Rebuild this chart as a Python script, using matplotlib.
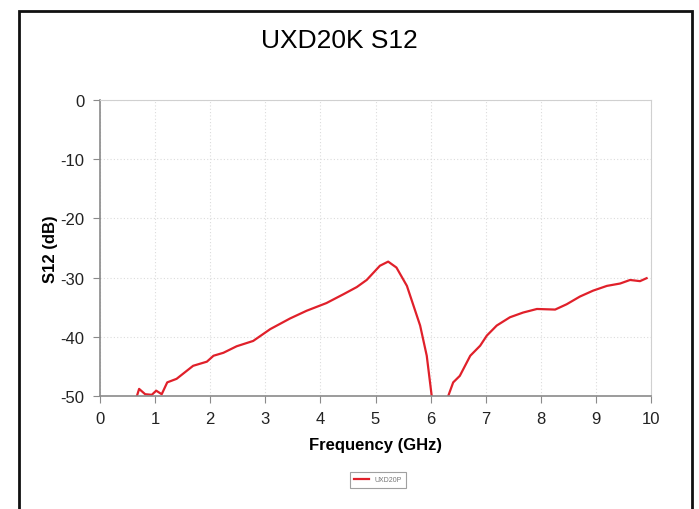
import matplotlib
matplotlib.use("Agg")
import matplotlib.pyplot as plt
from matplotlib.patches import Rectangle

plt.rcParams["font.family"] = ["Liberation Sans", "DejaVu Sans"]
plt.rcParams["axes.unicode_minus"] = False

# S12 trace (GHz, dB); values below -50 get clipped by the axes
freq_ghz = [0.67, 0.71, 0.82, 0.94, 1.02, 1.12, 1.22, 1.39, 1.69, 1.94, 2.06, 2.24,
            2.48, 2.78, 3.09, 3.45, 3.75, 4.11, 4.42, 4.66, 4.84, 5.08, 5.23, 5.38,
            5.57, 5.81, 5.93, 6.02, 6.12, 6.22, 6.32, 6.41, 6.53, 6.72, 6.90, 7.02,
            7.20, 7.44, 7.68, 7.93, 8.26, 8.47, 8.71, 8.95, 9.20, 9.44, 9.62, 9.80, 9.92]
s12_db = [-50.0, -48.8, -49.7, -49.8, -49.1, -49.7, -47.7, -47.1, -44.9, -44.2, -43.2, -42.7,
          -41.6, -40.7, -38.7, -36.9, -35.6, -34.3, -32.8, -31.6, -30.4, -28.0, -27.3, -28.3,
          -31.4, -38.1, -43.2, -50.0, -58.0, -60.0, -50.0, -47.7, -46.6, -43.2, -41.5, -39.8,
          -38.1, -36.7, -35.9, -35.3, -35.4, -34.5, -33.2, -32.2, -31.4, -31.0, -30.4, -30.6, -30.1]

x_ticks = list(range(0, 11))
y_ticks = [0, -10, -20, -30, -40, -50]

fig = plt.figure(figsize=(6.99, 5.10), dpi=100)
W, H = 699, 510

# outer frame of the chart object
fig.patches.append(Rectangle((19 / W, -0.05), (692 - 19) / W, (510 - 12) / H + 0.05,
                             transform=fig.transFigure, fill=False, edgecolor="#111111",
                             linewidth=2.0))

ax = fig.add_axes([100 / W, (H - 397) / H, (651 - 100) / W, (397 - 101) / H])
ax.plot(freq_ghz, s12_db, color="#e0202a", linewidth=1.6, label="UXD20P")
ax.set_xlim(0, 10)
ax.set_ylim(-50, 0)
ax.set_xticks(x_ticks)
ax.set_yticks(y_ticks)
ax.grid(True, color="#dcdcdc", linestyle=(0, (1, 2)), linewidth=0.8)

for side in ("top", "right"):
    ax.spines[side].set_color("#d0d0d0")
for side in ("left", "bottom"):
    ax.spines[side].set_color("#8a8a8a")
    ax.spines[side].set_linewidth(1.2)
ax.tick_params(direction="out", length=5, color="#8a8a8a", labelsize=12, pad=6,
               labelcolor="#222222")

ax.set_xlabel("Frequency (GHz)", fontsize=12, fontweight="bold", labelpad=8)
ax.set_ylabel("S12 (dB)", fontsize=12, fontweight="bold", labelpad=2)

fig.text(339 / W, (H - 41) / H, "UXD20K S12", ha="center", va="center", fontsize=19)

leg = ax.legend(loc="center", bbox_to_anchor=(378 / W, (H - 481) / H),
                bbox_transform=fig.transFigure, fontsize=5, frameon=True, fancybox=False,
                handlelength=2.2, borderpad=0.6, labelcolor="#777777")
leg.get_frame().set_edgecolor("#888888")
leg.get_frame().set_linewidth(0.8)

fig.savefig("out.png", dpi=100)
